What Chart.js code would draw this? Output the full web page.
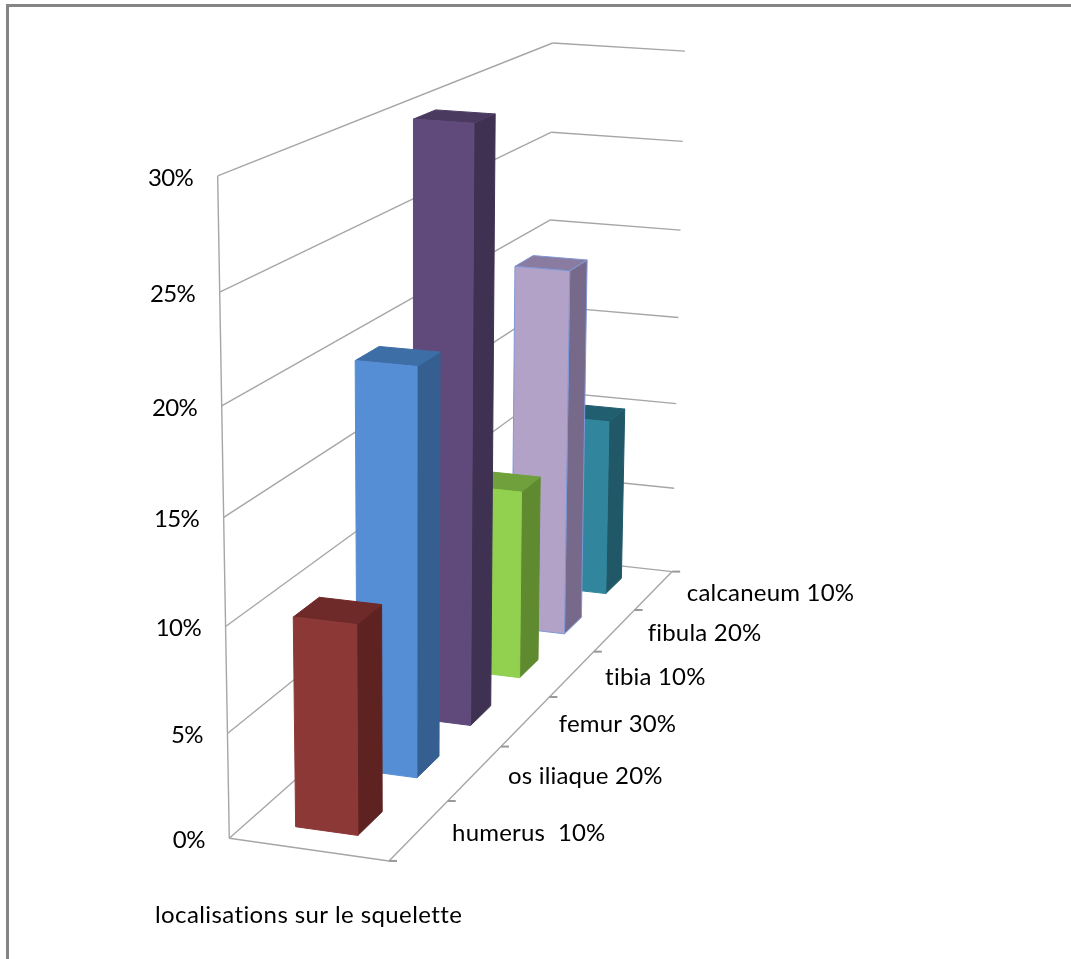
<!DOCTYPE html>
<html>
<head>
<meta charset="utf-8">
<title>localisations sur le squelette</title>
<script src="https://cdn.jsdelivr.net/npm/chart.js@4"></script>
<style>
  html, body { margin: 0; padding: 0; background: #fff; }
  canvas { display: block; }
</style>
</head>
<body>
<canvas id="graph" width="1071" height="959"></canvas>
<script>
// ------------ data -----------------------

var categories = ["humerus  10%", "os iliaque 20%", "femur 30%", "tibia 10%", "fibula 20%", "calcaneum 10%"];
var values = [10, 20, 30, 10, 20, 10];
var axisTitle = "localisations sur le squelette";

// ------------ colours --------------------

var frontColors = ["#8c3836", "#558ed5", "#604a7b", "#92d050", "#b3a2c7", "#31859c"];
var sideColors = ["#5e2321", "#365f91", "#3f3151", "#5f8a30", "#77698a", "#215868"];
var topColors = ["#6e2a28", "#3e6ea6", "#4a3a60", "#6fa03c", "#8a7ca0", "#215e70"];
var edgeColors = ["#8c3836", "#558ed5", "#604a7b", "#92d050", "#7f97d6", "#31859c"];

// ------------ perspective ----------------

// u = across the floor, v = height, w = depth, all 0..1
var cam = {
  x0: 229.3, y0: 838.3,
  ux: 153.7, uy: 9.3,
  vx: -24.7, vy: -672.9,
  wx: 482, wy: -112,
  du: -0.0155, dv: -0.06, dw: 0.3024
};
var barLeft = 0.295;
var barRight = 0.69;
var textFont = "24px Lato, sans-serif";
var tickSpacing = "-0.6px";
var labelSpacing = "0.2px";
var titleSpacing = "0.4px";

function project(u, v, w) {
  var d = 1 + cam.du * u + cam.dv * v + cam.dw * w;
  return {
    x: (cam.x0 + cam.ux * u + cam.vx * v + cam.wx * w) / d,
    y: (cam.y0 + cam.uy * u + cam.vy * v + cam.wy * w) / d
  };
}

function polygon(ctx, pts, fill, edge) {
  ctx.beginPath();
  pts.forEach(function (p, i) {
    if (i === 0) ctx.moveTo(p.x, p.y);
    else ctx.lineTo(p.x, p.y);
  });
  ctx.closePath();
  ctx.fillStyle = fill;
  ctx.fill();
  ctx.lineWidth = 1;
  ctx.strokeStyle = edge || fill;
  ctx.stroke();
}

function line(ctx, a, b) {
  ctx.beginPath();
  ctx.moveTo(a.x, a.y);
  ctx.lineTo(b.x, b.y);
  ctx.stroke();
}

// ------------ 3d drawing -----------------

function drawWalls(chart) {
  var ctx = chart.ctx;
  var area = chart.chartArea;
  var xs = chart.scales.x;
  var ys = chart.scales.y;

  // outer frame, top and left only
  ctx.fillStyle = "#858585";
  ctx.fillRect(6, 4, chart.width - 6, 3);
  ctx.fillRect(6, 4, 3, chart.height - 4);

  ctx.strokeStyle = "#a6a6a6";
  ctx.lineWidth = 1.4;
  ctx.font = textFont;
  ctx.letterSpacing = tickSpacing;
  ctx.textBaseline = "middle";

  ys.ticks.forEach(function (tick) {
    var v = (area.bottom - ys.getPixelForValue(tick.value)) / area.height;
    var front = project(0, v, 0);
    var back = project(0, v, 1);
    line(ctx, front, back);
    line(ctx, back, project(1, v, 1));

    ctx.fillStyle = "#000";
    ctx.textAlign = "right";
    ctx.fillText(tick.value + "%", front.x - 24.5, front.y + 2);
  });

  line(ctx, project(0, 0, 0), project(0, 1, 0));
  line(ctx, project(0, 0, 0), project(1, 0, 0));
  line(ctx, project(1, 0, 0), project(1, 0, 1));

  // depth axis ticks
  ctx.strokeStyle = "#999";
  ctx.lineWidth = 2;
  for (var k = 0; k <= categories.length; k++) {
    var p = project(1, 0, k / categories.length);
    line(ctx, p, { x: p.x + 8, y: p.y });
  }

  ctx.fillStyle = "#000";
  ctx.textAlign = "left";
  ctx.letterSpacing = labelSpacing;
  xs.getLabels().forEach(function (label, i) {
    var w = (xs.getPixelForValue(i) - area.left) / area.width;
    var p = project(1, 0, w);
    ctx.fillText(label, p.x + 33, p.y + 3);
  });

  ctx.letterSpacing = titleSpacing;
  ctx.fillText(xs.options.title.text, 155, 915);
}

// bars go back to front, each one read from its chart.js element
function drawBars(chart) {
  var ctx = chart.ctx;
  var area = chart.chartArea;
  var bars = chart.getDatasetMeta(0).data;

  for (var i = bars.length - 1; i >= 0; i--) {
    var bar = bars[i];
    var w0 = (bar.x - bar.width / 2 - area.left) / area.width;
    var w1 = (bar.x + bar.width / 2 - area.left) / area.width;
    var v = (area.bottom - bar.y) / area.height;
    var fill = bar.options.backgroundColor;
    var edge = bar.options.borderColor;
    var outline = edge === fill ? null : edge;

    polygon(ctx, [project(barRight, 0, w0), project(barRight, 0, w1), project(barRight, v, w1), project(barRight, v, w0)], sideColors[i], outline);
    polygon(ctx, [project(barLeft, v, w0), project(barRight, v, w0), project(barRight, v, w1), project(barLeft, v, w1)], topColors[i], outline);
    polygon(ctx, [project(barLeft, 0, w0), project(barRight, 0, w0), project(barRight, v, w0), project(barLeft, v, w0)], fill, edge);
  }
}

var depthBars = {
  id: "depthBars",
  // returning false stops the flat rectangles being painted as well
  beforeDatasetsDraw: function (chart) {
    var ctx = chart.ctx;
    ctx.save();
    drawWalls(chart);
    drawBars(chart);
    ctx.restore();
    return false;
  }
};

// ------------ graph ----------------------

var chart = new Chart(document.getElementById("graph"), {
  type: "bar",
  data: {
    labels: categories,
    datasets: [
      {
        label: axisTitle,
        data: values,
        backgroundColor: frontColors,
        borderColor: edgeColors,
        borderWidth: 0,
        barPercentage: 0.4,
        categoryPercentage: 1
      }
    ]
  },
  options: {
    responsive: false,
    animation: false,
    layout: { padding: 0 },
    plugins: {
      legend: { display: false },
      tooltip: { enabled: false }
    },
    scales: {
      x: { display: false, title: { text: axisTitle } },
      y: { display: false, min: 0, max: 30, ticks: { stepSize: 5 } }
    }
  },
  plugins: [depthBars]
});
</script>
</body>
</html>
